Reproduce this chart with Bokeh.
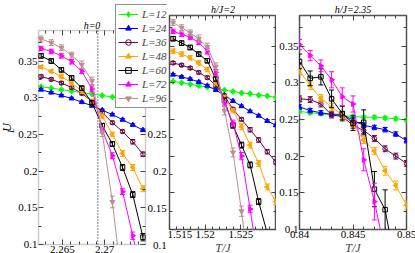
import math
from bokeh.plotting import figure
from bokeh.models import (Range1d, FixedTicker, LinearAxis, Legend, LegendItem, Title, Label,
                          BoxAnnotation)
from bokeh.layouts import row
from bokeh.embed import file_html
from bokeh.resources import INLINE

SERIF = "Liberation Serif"

sizes = ["L=12", "L=24", "L=36", "L=48", "L=60", "L=72", "L=96"]
colors = ["#00ff00", "#0000ff", "#670748", "#ffa500", "#000000", "#ff00ff", "#bc8f8f"]
markers = ["diamond", "triangle", "circle", "triangle", "square", "triangle", "inverted_triangle"]
marker_angles = [0, 0, 0, math.pi / 2, 0, -math.pi / 2, 0]
marker_filled = [True, True, False, True, False, True, True]
marker_sizes = [6, 5, 4.5, 5, 4.5, 5, 5]

titles = ["h=0", "h/J=2", "h/J=2.35"]
x_title = "T/J"
y_title_main = "U"
y_title_sub = "L"
tc = 2.269185

y_ticks = [0.1, 0.15, 0.2, 0.25, 0.3, 0.35]
y_minor = [0.125, 0.175, 0.225, 0.275, 0.325, 0.375]
y_labels = ["0.1", "0.15", "0.2", "0.25", "0.3", "0.35"]
y_labels_pad = ["\u20070.1", "0.15", "\u20070.2", "0.25", "\u20070.3", "0.35"]
Y_RANGE = (0.1, 0.3916)

# ---- panel 1 : h = 0
X1_RANGE = (2.2622, 2.2748)
x1_ticks = [2.265, 2.27]
x1_minor = [2.263, 2.264, 2.265, 2.266, 2.267, 2.268, 2.269, 2.27, 2.271, 2.272, 2.273, 2.274]
x1_labels = ["2.265", "2.27"]
t_h0 = [2.2625, 2.2637, 2.2649, 2.2661, 2.2673, 2.2685, 2.2697, 2.2709, 2.2721, 2.2733, 2.2745]
u_h0 = [
    [0.315, 0.313, 0.311, 0.309, 0.307, 0.305, 0.303, 0.301, 0.299, 0.297, 0.295],
    [0.311, 0.307, 0.303, 0.299, 0.294, 0.289, 0.283, 0.277, 0.270, 0.263, 0.256],
    [0.329, 0.325, 0.320, 0.314, 0.306, 0.295, 0.280, 0.266, 0.254, 0.240, 0.223],
    [0.342, 0.336, 0.329, 0.320, 0.309, 0.295, 0.275, 0.250, 0.224, 0.205, 0.176],
    [0.357, 0.350, 0.338, 0.327, 0.313, 0.293, 0.262, 0.237, 0.205, 0.168, 0.110],
    [0.367, 0.363, 0.357, 0.349, 0.336, 0.312, 0.256, 0.221, 0.172, 0.112, 0.050],
    [0.380, 0.375, 0.368, 0.358, 0.345, 0.323, 0.253, 0.158, 0.040],
]
e_h0 = [
    [0.001, 0.001, 0.001, 0.001, 0.001, 0.001, 0.001, 0.001, 0.001, 0.001, 0.001],
    [0.0015, 0.0015, 0.0015, 0.0015, 0.0015, 0.0015, 0.0015, 0.0015, 0.0015, 0.0015, 0.0015],
    [0.002, 0.002, 0.002, 0.002, 0.002, 0.002, 0.002, 0.002, 0.002, 0.003, 0.003],
    [0.002, 0.002, 0.003, 0.003, 0.003, 0.003, 0.003, 0.003, 0.004, 0.004, 0.004],
    [0.003, 0.003, 0.003, 0.003, 0.003, 0.003, 0.003, 0.003, 0.004, 0.004, 0.005],
    [0.003, 0.003, 0.003, 0.003, 0.003, 0.004, 0.004, 0.004, 0.004, 0.005, 0.005],
    [0.004, 0.004, 0.004, 0.004, 0.005, 0.005, 0.006, 0.008, 0.008],
]

# ---- panel 2 : h/J = 2
X2_RANGE = (1.515, 1.530)
x2_ticks = [1.515, 1.52, 1.525]
x2_minor = [1.516, 1.517, 1.518, 1.519, 1.52, 1.521, 1.522, 1.523, 1.524, 1.525, 1.526, 1.527, 1.528, 1.529]
x2_labels = ["1.515", "1.52", "1.525"]
t_h2 = [1.5155, 1.5167, 1.5179, 1.5191, 1.5203, 1.5215, 1.5227, 1.5239, 1.5251, 1.5263, 1.5275, 1.5287, 1.5299]
u_h2 = [
    [0.302, 0.300, 0.298, 0.296, 0.294, 0.292, 0.290, 0.288, 0.286, 0.285, 0.283, 0.282, 0.280],
    [0.311, 0.308, 0.305, 0.301, 0.296, 0.290, 0.283, 0.275, 0.268, 0.261, 0.255, 0.248, 0.242],
    [0.327, 0.324, 0.320, 0.314, 0.307, 0.296, 0.282, 0.264, 0.250, 0.236, 0.222, 0.206, 0.192],
    [0.343, 0.339, 0.334, 0.327, 0.318, 0.300, 0.280, 0.262, 0.240, 0.215, 0.190, 0.158, 0.138],
    [0.360, 0.354, 0.348, 0.339, 0.330, 0.305, 0.276, 0.242, 0.215, 0.188, 0.138, 0.095],
    [0.370, 0.366, 0.362, 0.355, 0.343, 0.314, 0.272, 0.245, 0.200, 0.128, 0.050],
    [0.382, 0.375, 0.368, 0.360, 0.349, 0.322, 0.262, 0.205, 0.125, 0.030],
]
e_h2 = [
    [0.001, 0.001, 0.001, 0.001, 0.001, 0.001, 0.001, 0.001, 0.001, 0.001, 0.001, 0.001, 0.001],
    [0.0015, 0.0015, 0.0015, 0.0015, 0.0015, 0.0015, 0.0015, 0.0015, 0.0015, 0.0015, 0.0015, 0.0015, 0.0015],
    [0.002, 0.002, 0.002, 0.002, 0.002, 0.002, 0.002, 0.002, 0.002, 0.003, 0.003, 0.003, 0.003],
    [0.003, 0.003, 0.003, 0.003, 0.003, 0.003, 0.003, 0.003, 0.004, 0.004, 0.004, 0.004, 0.004],
    [0.003, 0.003, 0.003, 0.003, 0.003, 0.003, 0.003, 0.004, 0.004, 0.004, 0.004, 0.004],
    [0.003, 0.003, 0.003, 0.003, 0.004, 0.004, 0.004, 0.004, 0.005, 0.005, 0.005],
    [0.004, 0.004, 0.004, 0.005, 0.005, 0.005, 0.006, 0.006, 0.007, 0.007],
]

# ---- panel 3 : h/J = 2.35
X3_RANGE = (0.84, 0.85)
x3_ticks = [0.84, 0.845, 0.85]
x3_minor = [0.841, 0.842, 0.843, 0.844, 0.845, 0.846, 0.847, 0.848, 0.849]
x3_labels = ["0.84", "0.845", "0.85"]
t_h235 = [0.840, 0.841, 0.842, 0.843, 0.844, 0.845, 0.846, 0.847, 0.848, 0.849, 0.850]
u_h235 = [
    [0.261, 0.259, 0.258, 0.256, 0.255, 0.254, 0.253, 0.253, 0.252, 0.251, 0.249],
    [0.267, 0.262, 0.259, 0.257, 0.257, 0.249, 0.242, 0.239, 0.236, 0.230, 0.221],
    [0.278, 0.277, 0.271, 0.256, 0.254, 0.242, 0.235, 0.224, 0.210, 0.200, 0.190],
    [0.316, 0.296, 0.279, 0.267, 0.256, 0.244, 0.222, 0.207, 0.180, 0.160, 0.133],
    [0.329, 0.306, 0.308, 0.278, 0.258, 0.245, 0.246, 0.155, 0.127, 0.050],
    [0.352, 0.337, 0.323, 0.304, 0.281, 0.271, 0.195, 0.138, 0.070],
]
e_h235 = [
    [0.002, 0.002, 0.002, 0.002, 0.002, 0.002, 0.002, 0.002, 0.002, 0.002, 0.002],
    [0.003, 0.003, 0.003, 0.003, 0.003, 0.003, 0.003, 0.003, 0.003, 0.003, 0.003],
    [0.004, 0.004, 0.004, 0.004, 0.004, 0.004, 0.004, 0.004, 0.004, 0.004, 0.004],
    [0.005, 0.005, 0.005, 0.005, 0.005, 0.005, 0.005, 0.005, 0.006, 0.006, 0.006],
    [0.010, 0.010, 0.011, 0.012, 0.010, 0.010, 0.017, 0.024, 0.027, 0.030],
    [0.007, 0.007, 0.008, 0.011, 0.012, 0.011, 0.015, 0.025, 0.030],
]

# ---- geometry (pixels)
FIG_H = 253
PANEL_TOP = 15
PANEL_BOTTOM = 229
FRAME_H = PANEL_BOTTOM - PANEL_TOP
P1_LEFT, P1_RIGHT, FIG1_W = 38, 145, 167
TICK_COLOR = "#444444"
FRAME_COLOR = "#555555"


def style_axis(ax, ticks, minor, labels, font_size="11px", standoff=2):
    ax.ticker = FixedTicker(ticks=ticks, minor_ticks=minor)
    ax.axis_line_color = None
    ax.major_tick_in = 5
    ax.major_tick_out = 0
    ax.minor_tick_in = 3
    ax.minor_tick_out = 0
    ax.major_tick_line_color = TICK_COLOR
    ax.minor_tick_line_color = TICK_COLOR
    ax.major_label_standoff = standoff
    ax.major_label_text_font = SERIF
    ax.major_label_text_color = "black"
    if labels is None:
        ax.major_label_text_font_size = "0px"
        ax.major_label_overrides = {t: "" for t in ticks}
    else:
        ax.major_label_text_font_size = font_size
        ax.major_label_overrides = dict(zip(ticks, labels))


def draw_series(p, t, us, es):
    rends = []
    for i in range(len(us)):
        u = us[i]
        e = es[i]
        x = t[:len(u)]
        lo = [a - b for a, b in zip(u, e)]
        hi = [a + b for a, b in zip(u, e)]
        c = colors[i]
        p.segment(x0=x, y0=lo, x1=x, y1=hi, line_color=c, line_width=1)
        p.scatter(x=x, y=lo, marker="dash", size=5, line_color=c, line_width=1)
        p.scatter(x=x, y=hi, marker="dash", size=5, line_color=c, line_width=1)
        lr = p.line(x=x, y=u, line_color=c, line_width=1)
        sr = p.scatter(x=x, y=u, marker=markers[i], angle=marker_angles[i], size=marker_sizes[i],
                       line_color=c, line_width=1,
                       fill_color=c if marker_filled[i] else None)
        rends.append((lr, sr))
    return rends


def make_panel(t, us, es, xr, xt, xm, xl, title, fw, bl, br, left_labels, title_offset=0):
    p = figure(frame_width=fw, frame_height=FRAME_H,
               x_range=Range1d(*xr), y_range=Range1d(*Y_RANGE),
               output_backend="svg", toolbar_location=None,
               min_border_left=bl, min_border_right=br, min_border_top=PANEL_TOP,
               min_border_bottom=FIG_H - PANEL_BOTTOM,
               background_fill_color="white", border_fill_color="white")
    p.grid.visible = False
    p.outline_line_color = FRAME_COLOR
    p.outline_line_width = 1.5
    p.title = Title(text=title, align="center", offset=title_offset, standoff=1,
                    text_font=SERIF, text_font_style="italic", text_font_size="10px",
                    text_color="black")
    xa = p.xaxis[0]
    style_axis(xa, xt, xm, xl, standoff=1)
    xa.axis_label = x_title
    xa.axis_label_standoff = 0
    xa.axis_label_text_font = SERIF
    xa.axis_label_text_font_style = "italic"
    xa.axis_label_text_font_size = "12px"
    style_axis(p.yaxis[0], y_ticks, y_minor, left_labels, standoff=1 if left_labels else 0)
    top = LinearAxis()
    style_axis(top, xt, xm, None, standoff=0)
    p.add_layout(top, "above")
    right = LinearAxis()
    style_axis(right, y_ticks, y_minor, None, standoff=0)
    p.add_layout(right, "right")
    draw_series(p, t, us, es)
    return p


# ---- panel 1: its frame covers the whole first canvas, so the legend and the
# texts around the panel box can be drawn without being cut.
dx = (X1_RANGE[1] - X1_RANGE[0]) / (P1_RIGHT - P1_LEFT)
dy = (Y_RANGE[1] - Y_RANGE[0]) / (PANEL_BOTTOM - PANEL_TOP)
x_full = (X1_RANGE[0] - P1_LEFT * dx, X1_RANGE[1] + (FIG1_W - P1_RIGHT) * dx)
y_full = (Y_RANGE[0] - (FIG_H - PANEL_BOTTOM) * dy, Y_RANGE[1] + PANEL_TOP * dy)


def px_x(px):
    return x_full[0] + px * dx


def px_y(py):
    return y_full[1] - py * dy


p1 = figure(frame_width=FIG1_W, frame_height=FIG_H, x_range=Range1d(*x_full),
            y_range=Range1d(*y_full), output_backend="svg", toolbar_location=None, title=None,
            min_border_left=0, min_border_right=0, min_border_top=0, min_border_bottom=0,
            background_fill_color="white", border_fill_color="white")
p1.grid.visible = False
p1.outline_line_color = None

ax = p1.xaxis[0]
style_axis(ax, x1_ticks, x1_minor, x1_labels, standoff=1)
ax.fixed_location = Y_RANGE[0]
ax.level = "overlay"
ay = p1.yaxis[0]
style_axis(ay, y_ticks, y_minor, y_labels, standoff=1)
ay.fixed_location = X1_RANGE[0]
ay.level = "overlay"
top1 = LinearAxis(fixed_location=Y_RANGE[1])
style_axis(top1, x1_ticks, x1_minor, None, standoff=0)
p1.add_layout(top1, "above")
right1 = LinearAxis(fixed_location=X1_RANGE[1])
style_axis(right1, y_ticks, y_minor, y_labels_pad, standoff=2)
right1.level = "overlay"
p1.add_layout(right1, "right")

p1.segment(x0=[tc], y0=[Y_RANGE[0]], x1=[tc], y1=[Y_RANGE[1]], line_color="black",
           line_dash="1 2", line_width=1)
r1 = draw_series(p1, t_h0, u_h0, e_h0)

# white band under the panel box hides curve parts that run below U = 0.1
p1.add_layout(BoxAnnotation(left=x_full[0], right=x_full[1], bottom=y_full[0], top=Y_RANGE[0],
                            fill_color="white", fill_alpha=1.0, line_color=None, level="annotation"))
p1.add_layout(BoxAnnotation(left=X1_RANGE[0], right=X1_RANGE[1], bottom=Y_RANGE[0], top=Y_RANGE[1],
                            fill_color=None, fill_alpha=0, line_color=FRAME_COLOR, line_width=1.5,
                            level="overlay"))

cx = (X1_RANGE[0] + X1_RANGE[1]) / 2
text_kw = dict(text_font=SERIF, text_font_style="italic", text_color="black", level="overlay")
p1.add_layout(Label(x=cx, y=px_y(10), text=titles[0], text_align="center",
                    text_baseline="alphabetic", text_font_size="10px", **text_kw))
p1.add_layout(Label(x=cx, y=px_y(247), text=x_title, text_align="center",
                    text_baseline="alphabetic", text_font_size="12px", **text_kw))
p1.add_layout(Label(x=px_x(6), y=px_y(112), text=y_title_main, angle=math.pi / 2,
                    text_align="center", text_baseline="middle", text_font_size="12px", **text_kw))
p1.add_layout(Label(x=px_x(11), y=px_y(115), text=y_title_sub, angle=math.pi / 2,
                    text_align="center", text_baseline="middle", text_font_size="8px", **text_kw))

legend = Legend(items=[LegendItem(label=sizes[i], renderers=list(r1[i])) for i in range(len(sizes))],
                location=(115, FIG_H - 108), level="overlay")
legend.label_text_font = SERIF
legend.label_text_font_style = "italic"
legend.label_text_font_size = "11px"
legend.glyph_width = 20
legend.glyph_height = 14
legend.label_height = 14
legend.spacing = 0
legend.padding = 2
legend.margin = 0
legend.label_standoff = 4
legend.border_line_color = "#222222"
legend.border_line_width = 1.5
legend.background_fill_color = "white"
legend.background_fill_alpha = 1.0
p1.add_layout(legend)

p2 = make_panel(t_h2, u_h2, e_h2, X2_RANGE, x2_ticks, x2_minor, x2_labels,
                titles[1], 107, 2, 0, None)
p3 = make_panel(t_h235, u_h235, e_h235, X3_RANGE, x3_ticks, x3_minor, x3_labels,
                titles[2], 107, 21, 11, y_labels, title_offset=13)

layout = row(p1, p2, p3)
open("out.html", "w").write(file_html(layout, INLINE))
